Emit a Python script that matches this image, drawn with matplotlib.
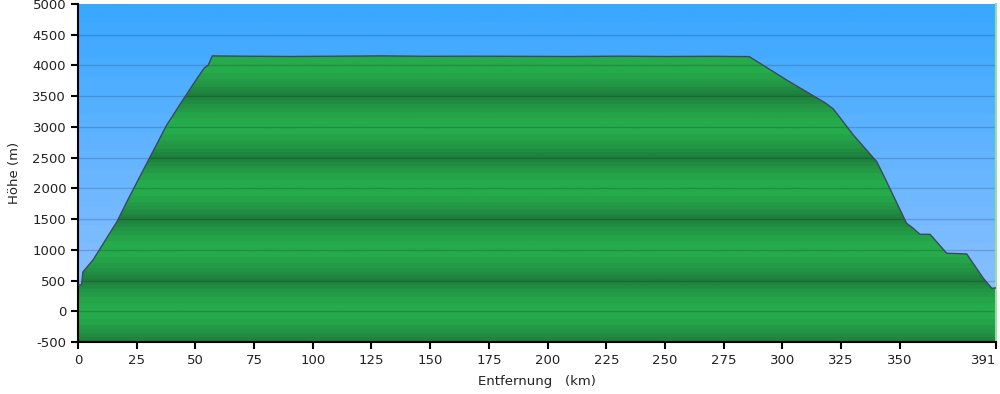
import numpy as np
import matplotlib.pyplot as plt
from matplotlib.colors import LinearSegmentedColormap

plt.rcParams["axes.unicode_minus"] = False

# profile (km, m)
km = [0.0, 1.5, 2.1, 6.4, 16.6, 21.2, 29.3, 37.8, 45.6, 49.8, 53.7, 55.5, 57.2,
      70, 90, 110, 130, 150, 170, 190, 210, 230, 250, 270, 285.9,
      301.8, 318.1, 321.7, 330.2, 340.2, 343.7, 352.9, 355.7, 358.6, 362.9,
      370.0, 378.5, 385.6, 389.2, 391.0]
elev = [428, 430, 640, 835, 1458, 1811, 2408, 3031, 3492, 3736, 3954, 4008, 4155,
        4150, 4145, 4150, 4155, 4148, 4150, 4147, 4145, 4150, 4145, 4148, 4143,
        3763, 3394, 3292, 2869, 2434, 2164, 1432, 1351, 1252, 1252,
        944, 933, 537, 374, 380]

x_ticks = [0, 25, 50, 75, 100, 125, 150, 175, 200, 225, 250, 275, 300, 325, 350, 391]
y_ticks = list(range(-500, 5001, 500))

x_max = 391
y_min, y_max = -500, 5000

fig = plt.figure(figsize=(10, 3.94), dpi=100)
ax = fig.add_axes([0.078, 0.132, 0.918, 0.858])
ax.set_xlim(0, x_max)
ax.set_ylim(y_min, y_max)

# sky gradient, a bit stepped like the original
h = np.linspace(y_max, y_min, 400)
steps = np.floor((y_max - h) / 300) / ((y_max - y_min) / 300)
sky = LinearSegmentedColormap.from_list("sky", ["#3aa8ff", "#9cc4ff"])
ax.imshow(steps[:, None], aspect="auto", cmap=sky, vmin=0, vmax=1,
          extent=[0, x_max, y_min, y_max], zorder=0)

# green fill, banded with 1000 m period (dark at 500, 1500, ...)
t = (1 - np.cos(2 * np.pi * (h - 500) / 1000)) / 2
t = np.round(np.sqrt(t) * 6) / 6
green = LinearSegmentedColormap.from_list("grn", ["#1e7d3c", "#26ab4c"])
img = ax.imshow(t[:, None], aspect="auto", cmap=green, vmin=0, vmax=1,
                extent=[0, x_max, y_min, y_max], zorder=1)
poly = ax.fill_between(km, elev, y_min, color="none", lw=0)
img.set_clip_path(poly.get_paths()[0], transform=ax.transData)

ax.plot(km, elev, color="#3a4866", lw=1.0, zorder=3)

for yv in y_ticks[1:-1]:
    ax.axhline(yv, color="black", alpha=0.16, lw=1, zorder=2)

ax.set_xticks(x_ticks)
ax.set_yticks(y_ticks)
ax.tick_params(direction="out", length=5, width=1.5, color="black",
               labelsize=9.5, labelcolor="#222222")
ax.get_xticklabels()[-1].set_horizontalalignment("right")
for s in ["left", "bottom"]:
    ax.spines[s].set_linewidth(1.5)
ax.spines["top"].set_visible(False)
ax.spines["right"].set_color("#90e0a0")
ax.spines["right"].set_linewidth(1.5)

ax.set_xlabel("Entfernung   (km)", fontsize=9.5, color="#222222", labelpad=6)
ax.set_ylabel("Höhe (m)", fontsize=9.5, color="#222222", labelpad=8)

fig.savefig("out.png", dpi=100)
